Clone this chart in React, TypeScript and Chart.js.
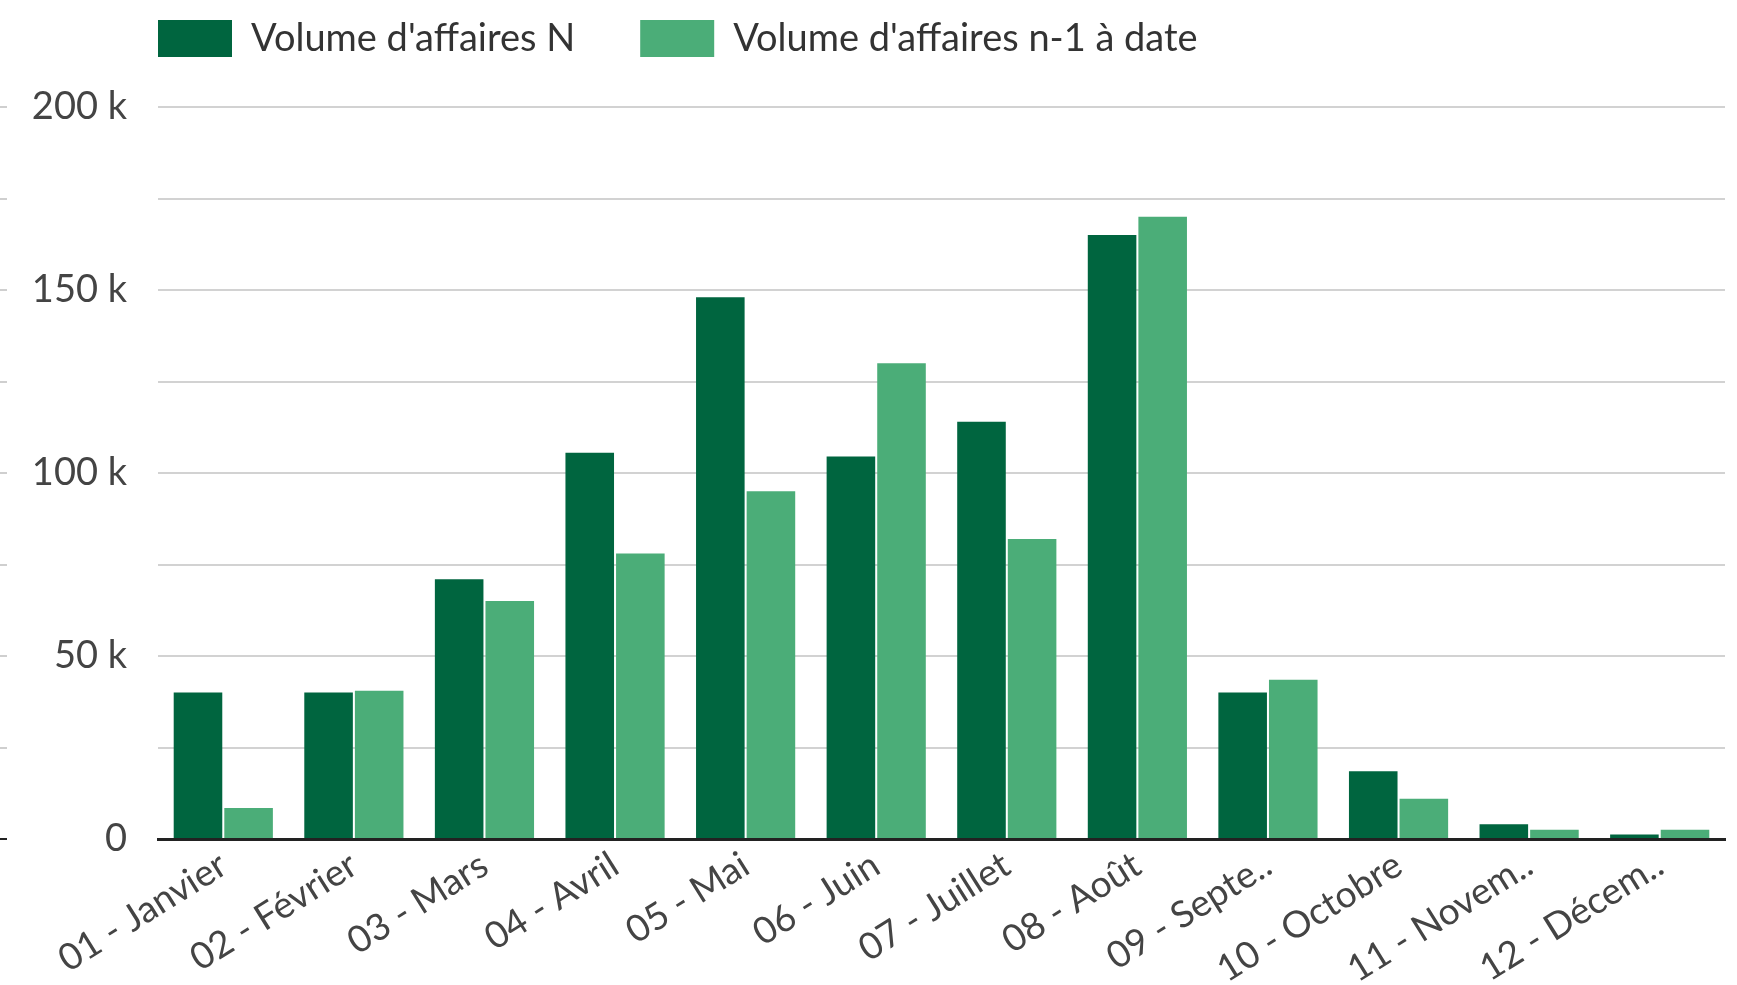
import React, { useEffect, useRef } from 'react';
import { Chart, registerables } from 'chart.js';

Chart.register(...registerables);

const categories = [
  '01 - Janvier',
  '02 - Février',
  '03 - Mars',
  '04 - Avril',
  '05 - Mai',
  '06 - Juin',
  '07 - Juillet',
  '08 - Août',
  '09 - Septe..',
  '10 - Octobre',
  '11 - Novem..',
  '12 - Décem..',
];
const volumeN = [40000, 40000, 71000, 105500, 148000, 104500, 114000, 165000, 40000, 18500, 4000, 1200];
const volumeN1 = [8500, 40500, 65000, 78000, 95000, 130000, 82000, 170000, 43500, 11000, 2500, 2500];
const seriesLabels = ["Volume d'affaires N", "Volume d'affaires n-1 à date"];
const yMax = 200000;
const yStep = 25000;
const yLabelStep = 50000;

const DARK = '#00653F';
const LIGHT = '#4BAD78';
const FONT = 'Lato, "Open Sans", sans-serif';
const LEGEND_FONT = 38;

const legendShift = {
  id: 'legendShift',
  afterLayout(chart: any) {
    const lg = chart.legend;
    if (!lg) return;
    const pad = lg.options.labels.padding;
    const dx = chart.chartArea.left - pad - lg.left;
    lg.left += dx;
    lg.right += dx;
    const boxOff = Math.max((LEGEND_FONT - 37) / 2, 0);
    const dy = 20 - boxOff - pad - lg.top;
    lg.top += dy;
    lg.bottom += dy;
  },
};

const leftTicks = {
  id: 'leftTicks',
  afterDraw(chart: any) {
    const y = chart.scales.y;
    const ctx = chart.ctx;
    ctx.save();
    y.ticks.forEach((t: any) => {
      const py = Math.round(y.getPixelForValue(t.value));
      ctx.fillStyle = t.value === 0 ? '#222222' : '#cfcfcf';
      ctx.fillRect(0, py - 1, 7, 2);
    });
    ctx.restore();
  },
};

export default function App() {
  const ref = useRef<HTMLCanvasElement>(null);

  useEffect(() => {
    document.body.style.margin = '0';
    if (!ref.current) return;
    const chart = new Chart(ref.current, {
      type: 'bar',
      data: {
        labels: categories,
        datasets: [
          {
            label: seriesLabels[0],
            data: volumeN,
            backgroundColor: DARK,
            borderWidth: 0,
            categoryPercentage: 0.775,
            barPercentage: 0.96,
          },
          {
            label: seriesLabels[1],
            data: volumeN1,
            backgroundColor: LIGHT,
            borderWidth: 0,
            categoryPercentage: 0.775,
            barPercentage: 0.96,
          },
        ],
      },
      options: {
        responsive: false,
        animation: false,
        layout: { padding: { top: -6, right: 12, left: 0, bottom: 0 } },
        plugins: {
          tooltip: { enabled: false },
          legend: {
            align: 'start',
            labels: {
              boxWidth: 74,
              boxHeight: 37,
              padding: 65,
              color: '#333333',
              font: { family: FONT, size: LEGEND_FONT },
            },
          },
        },
        scales: {
          x: {
            grid: { display: false, drawTicks: false },
            border: { display: true, color: '#222222', width: 3 },
            ticks: {
              minRotation: 32,
              maxRotation: 32,
              autoSkip: false,
              padding: 4,
              color: '#444444',
              font: { family: FONT, size: 37 },
            },
            afterFit: (scale: any) => {
              scale.height = 146;
            },
          },
          y: {
            min: 0,
            max: yMax,
            grid: {
              drawTicks: false,
              color: '#d2d2d2',
              lineWidth: 2,
            },
            border: { display: false },
            ticks: {
              stepSize: yStep,
              padding: 31,
              color: '#444444',
              font: { family: FONT, size: 38 },
              callback: (v: any) => {
                const n = Number(v);
                if (n % yLabelStep !== 0) return '';
                return n === 0 ? '0' : `${n / 1000} k`;
              },
            },
            afterFit: (scale: any) => {
              scale.width = 158;
            },
          },
        },
      },
      plugins: [legendShift, leftTicks],
    });
    return () => chart.destroy();
  }, []);

  return (
    <div style={{ width: 1737, height: 985 }}>
      <canvas ref={ref} width={1737} height={985} style={{ display: 'block' }} />
    </div>
  );
}
